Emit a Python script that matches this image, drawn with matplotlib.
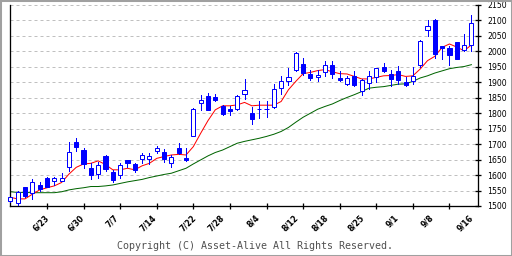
import matplotlib
matplotlib.use('Agg')
import matplotlib.pyplot as plt
import matplotlib.transforms as mtransforms
from matplotlib.patches import Rectangle

# Giá mở, cao, thấp, đóng cửa từng phiên
gia_mo = [1517, 1509, 1560, 1541, 1567, 1590, 1582, 1581, 1625, 1706, 1681, 1622, 1603, 1662, 1609, 1599,
          1648, 1636, 1653, 1651, 1677, 1674, 1638, 1687, 1656, 1726, 1833, 1855, 1851, 1822, 1815, 1815,
          1861, 1800, 1814, 1814, 1820, 1880, 1903, 1941, 1959, 1928, 1917, 1933, 1957, 1915, 1894, 1919,
          1873, 1897, 1917, 1948, 1928, 1936, 1900, 1905, 1955, 2069, 2103, 2017, 2011, 2030, 2003, 2020]
gia_cao = [1530, 1548, 1561, 1586, 1578, 1594, 1595, 1607, 1706, 1720, 1688, 1640, 1643, 1665, 1617, 1638,
           1648, 1638, 1671, 1673, 1695, 1685, 1664, 1703, 1687, 1816, 1860, 1865, 1862, 1827, 1824, 1860,
           1911, 1820, 1840, 1838, 1895, 1920, 1947, 1998, 1978, 1941, 1941, 1970, 1970, 1937, 1921, 1937,
           1910, 1935, 1946, 1964, 1941, 1954, 1917, 1951, 2036, 2100, 2105, 2017, 2019, 2030, 2056, 2117]
gia_thap = [1514, 1504, 1530, 1524, 1550, 1560, 1567, 1580, 1614, 1679, 1624, 1586, 1589, 1612, 1579, 1589,
            1625, 1611, 1638, 1637, 1671, 1643, 1625, 1667, 1645, 1725, 1811, 1809, 1840, 1795, 1795, 1809,
            1847, 1765, 1785, 1788, 1816, 1862, 1892, 1936, 1924, 1908, 1903, 1919, 1913, 1903, 1891, 1889,
            1860, 1878, 1900, 1932, 1889, 1895, 1887, 1895, 1951, 2049, 1978, 1976, 1956, 1975, 2000, 2002]
gia_dong = [1528, 1546, 1532, 1577, 1556, 1563, 1590, 1590, 1674, 1692, 1635, 1601, 1633, 1620, 1585, 1633,
            1639, 1617, 1665, 1662, 1688, 1653, 1658, 1672, 1649, 1813, 1843, 1811, 1843, 1799, 1806, 1855,
            1876, 1781, 1814, 1814, 1878, 1905, 1917, 1995, 1929, 1915, 1923, 1955, 1928, 1908, 1914, 1891,
            1908, 1922, 1946, 1935, 1911, 1908, 1891, 1921, 2034, 2082, 1992, 2011, 1989, 1976, 2020, 2092]

# Đường trung bình ngắn hạn (đỏ) và dài hạn (xanh lá)
tb_ngan = [1528, 1523, 1523, 1538, 1552, 1559, 1565, 1576, 1603, 1625, 1636, 1638, 1646, 1634, 1617, 1617,
           1622, 1617, 1630, 1638, 1654, 1660, 1665, 1667, 1665, 1692, 1735, 1776, 1811, 1824, 1824, 1827,
           1835, 1824, 1826, 1826, 1826, 1838, 1876, 1903, 1928, 1932, 1938, 1941, 1934, 1928, 1927, 1919,
           1911, 1911, 1916, 1921, 1922, 1925, 1919, 1921, 1943, 1970, 1984, 2013, 2024, 2014, 2002, 2021]
tb_dai = [1546, 1544, 1544, 1543, 1543, 1543, 1543, 1546, 1552, 1556, 1559, 1563, 1563, 1565, 1568, 1573,
          1578, 1582, 1586, 1592, 1597, 1602, 1606, 1614, 1622, 1636, 1649, 1662, 1673, 1681, 1692, 1703,
          1709, 1714, 1719, 1725, 1732, 1741, 1754, 1771, 1787, 1800, 1813, 1822, 1830, 1841, 1851, 1860,
          1870, 1881, 1884, 1886, 1890, 1894, 1895, 1903, 1914, 1921, 1930, 1937, 1944, 1948, 1951, 1957]

# Nhãn ngày trên trục X
nhan_ngay = ['6/23', '6/30', '7/7', '7/14', '7/22', '7/28', '8/4', '8/12', '8/18', '8/25', '9/1', '9/8', '9/16']
vi_tri_nhan = [5.1, 9.9, 14.6, 19.8, 25.2, 29.1, 33.8, 39.2, 43.3, 48.2, 52.8, 57.7, 63.1]
vi_tri_vach = [5, 10, 15, 20, 25, 30, 35, 40, 45, 50, 55, 60]

# Mốc giá trục Y
muc_gia = list(range(1500, 2151, 50))

xanh = '#0000ff'
px = 0.72  # 1 pixel tính theo point khi dpi = 100

fig = plt.figure(figsize=(5.12, 2.56), dpi=100)
ax = fig.add_axes([10 / 512, 50 / 256, 468 / 512, 201 / 256])

# Lưới ngang nét đứt
for g in muc_gia[1:]:
    ax.axhline(g, color='#c0c0c0', lw=px, ls=(0, (3, 3)), zorder=0)

# Đường trung bình
ax.plot(range(len(tb_dai)), tb_dai, color='#006400', lw=px, zorder=2)
ax.plot(range(len(tb_ngan)), tb_ngan, color='#ff0000', lw=px, zorder=2)

# Vẽ nến
rong = 0.56
for i in range(len(gia_mo)):
    o, h, l, c = gia_mo[i], gia_cao[i], gia_thap[i], gia_dong[i]
    ax.plot([i, i], [l, h], color=xanh, lw=px, zorder=3, clip_on=False)
    duoi = min(o, c)
    cao = abs(c - o)
    mau = 'white' if c >= o else xanh
    ax.add_patch(Rectangle((i - rong / 2, duoi), rong, cao, facecolor=mau, edgecolor=xanh,
                           lw=px, zorder=4, clip_on=False))

ax.set_xlim(-0.05, 63.9)
ax.set_ylim(1500, 2150)

# Trục
ax.spines['top'].set_visible(False)
for s in ['left', 'right', 'bottom']:
    ax.spines[s].set_linewidth(px * 1.3)
ax.yaxis.tick_right()
ax.set_yticks(muc_gia)
ax.set_yticklabels([str(m) for m in muc_gia], fontsize=5.6, color='black')
ax.tick_params(axis='y', direction='inout', length=5, width=px * 1.3, pad=4)
ax.set_xticks(vi_tri_vach)
ax.set_xticklabels([])
ax.tick_params(axis='x', direction='inout', length=5, width=px * 1.3)

# Nhãn ngày xoay 45 độ
tr = mtransforms.blended_transform_factory(ax.transData, ax.transAxes)
for x, t in zip(vi_tri_nhan, nhan_ngay):
    ax.text(x, -0.05, t, transform=tr, rotation=45, rotation_mode='anchor',
            ha='right', va='center', fontsize=5.6, fontweight='bold', clip_on=False)

# Dòng bản quyền
fig.text(255 / 512, 1 - 246 / 256, 'Copyright (C) Asset-Alive All Rights Reserved.',
         ha='center', va='center', fontsize=7.2, family='DejaVu Sans Mono', color='#505050')

# Khung viền xám
fig.patches.append(Rectangle((0, 0), 1, 1, transform=fig.transFigure, fill=False,
                             edgecolor='#a0a0a0', lw=2.2))

fig.savefig('out.png', dpi=100)
